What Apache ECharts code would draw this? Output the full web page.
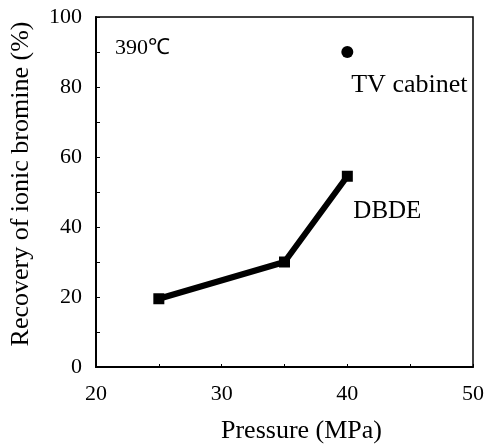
<!DOCTYPE html>
<html>
<head>
<meta charset="utf-8">
<script src="https://cdn.jsdelivr.net/npm/echarts@6/dist/echarts.min.js"></script>
<style>
html,body{margin:0;padding:0;background:#fff;}
#chart{width:490px;height:446px;}
</style>
</head>
<body>
<div id="chart"></div>
<script>
// ---- data
var pressure = [25, 35, 40];          // MPa
var dbdeRecovery = [19.5, 30, 54.5];  // %
var tvPressure = [40];
var tvRecovery = [90];
var xTicks = [20, 30, 40, 50];
var yTicks = [0, 20, 40, 60, 80, 100];

var FONT = '"Liberation Serif", "Times New Roman", serif';

var myChart = echarts.init(document.getElementById('chart'));

var option = {
    backgroundColor: '#fff',
    animation: false,
    grid: {
        left: 96,
        top: 17,
        right: 17,
        bottom: 79,
        outerBoundsMode: 'none',
        containLabel: false,
        show: true,
        borderColor: '#000',
        borderWidth: 1.5
    },
    title: {//---温度标注
        text: '390℃',
        left: 110,
        top: 32,
        textStyle: {fontFamily: FONT, fontSize: 22, fontWeight: 'normal', color: '#000'}
    },
    xAxis: {
        type: 'value',
        min: xTicks[0],
        max: xTicks[xTicks.length - 1],
        interval: 10,
        name: 'Pressure (MPa)',
        nameLocation: 'middle',
        nameGap: 51,
        nameTextStyle: {fontFamily: FONT, fontSize: 26, color: '#000', padding: [0, 0, 0, 34]},
        axisLine: {lineStyle: {color: '#000', width: 2}},
        axisTick: {inside: true, length: 3, lineStyle: {color: '#000'}},
        minorTick: {show: true, splitNumber: 2, length: 3, lineStyle: {color: '#000'}},
        splitLine: {show: false},
        axisLabel: {fontFamily: FONT, fontSize: 22, color: '#000', margin: 16}
    },
    yAxis: {
        type: 'value',
        min: yTicks[0],
        max: yTicks[yTicks.length - 1],
        interval: 20,
        name: 'Recovery of ionic bromine (%)',
        nameLocation: 'middle',
        nameGap: 46,
        nameTextStyle: {fontFamily: FONT, fontSize: 26, color: '#000', padding: [0, 0, 16, 16]},
        axisLine: {lineStyle: {color: '#000', width: 2}},
        axisTick: {inside: true, length: 4, lineStyle: {color: '#000'}},
        minorTick: {show: true, splitNumber: 2, length: 4, lineStyle: {color: '#000'}},
        splitLine: {show: false},
        axisLabel: {fontFamily: FONT, fontSize: 22, color: '#000', margin: 14}
    },
    series: [
        {//----DBDE 曲线
            name: 'DBDE',
            type: 'line',
            data: pressure.map(function (p, i) { return [p, dbdeRecovery[i]]; }),
            symbol: 'rect',
            symbolSize: 11,
            itemStyle: {color: '#000'},
            lineStyle: {color: '#000', width: 6},
            endLabel: {
                show: true,
                formatter: 'DBDE',
                fontFamily: FONT,
                fontSize: 25,
                color: '#000',
                offset: [-2, 35]
            }
        },
        {//----TV cabinet 点
            name: 'TV cabinet',
            type: 'scatter',
            data: tvPressure.map(function (p, i) { return [p, tvRecovery[i]]; }),
            symbol: 'circle',
            symbolSize: 12,
            itemStyle: {color: '#000', opacity: 1},
            label: {
                show: true,
                formatter: 'TV cabinet',
                position: 'bottom',
                distance: 14,
                offset: [62, 0],
                fontFamily: FONT,
                fontSize: 26,
                color: '#000'
            }
        }
    ]
};

myChart.setOption(option);
</script>
</body>
</html>
